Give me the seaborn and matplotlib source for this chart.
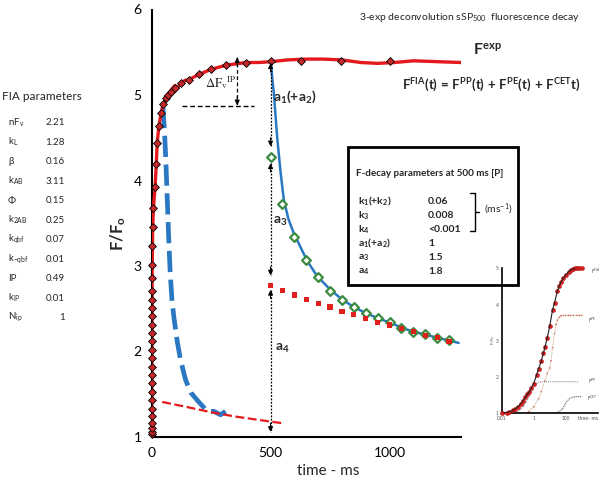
import matplotlib
matplotlib.use("Agg")
import matplotlib.pyplot as plt
import seaborn as sns
from matplotlib.patches import Rectangle
from matplotlib.lines import Line2D

# ---------------- data ----------------
# measured fluorescence induction (red diamonds)
exp_t = [0.01, 0.02, 0.05, 0.1, 0.2, 0.3, 0.4, 0.5, 0.6, 0.7, 0.8, 0.9, 1.0, 1.1, 1.2,
         1.4, 1.6, 1.8, 2.0, 2.3, 2.7, 3.2, 4, 5, 8, 15, 20, 24, 31, 41, 49, 62, 70, 80,
         98, 125, 157, 199, 250, 315, 398, 503, 630, 794, 1001]
exp_f = [1.04, 1.06, 1.10, 1.16, 1.24, 1.33, 1.43, 1.53, 1.63, 1.73, 1.82, 1.92, 2.02, 2.12,
         2.22, 2.31, 2.41, 2.51, 2.60, 2.71, 2.86, 3.01, 3.23, 3.46, 3.68, 3.92, 4.19, 4.44,
         4.64, 4.79, 4.89, 4.96, 5.00, 5.04, 5.08, 5.14, 5.18, 5.24, 5.30, 5.35, 5.38, 5.40,
         5.40, 5.40, 5.40]
# FIA fit (solid red)
fia_t = [0, 0.5, 1.0, 1.5, 2.0, 3.2, 4, 5, 8, 15, 20, 24, 31, 41, 49, 62, 70, 80, 98, 110,
         125, 140, 157, 199, 250, 315, 398, 450, 503, 570, 650, 720, 800, 880, 950, 1020,
         1100, 1200, 1300]
fia_f = [1.0, 1.53, 2.02, 2.31, 2.60, 3.01, 3.23, 3.46, 3.68, 3.92, 4.19, 4.44, 4.64, 4.79,
         4.89, 4.96, 5.00, 5.05, 5.11, 5.09, 5.13, 5.17, 5.18, 5.24, 5.30, 5.35, 5.38, 5.38,
         5.39, 5.41, 5.42, 5.42, 5.41, 5.38, 5.37, 5.38, 5.40, 5.39, 5.38]
# blue dashed component
pe_t = [48, 55, 60, 66, 72, 78, 86, 95, 108, 122, 143, 165, 192, 215, 234, 262, 290, 311]
pe_f = [4.86, 4.55, 4.25, 3.80, 3.35, 2.95, 2.60, 2.38, 2.12, 1.90, 1.67, 1.52, 1.43, 1.36,
        1.30, 1.30, 1.26, 1.30]
# red dashed component
cet_t = [45, 150, 250, 350, 450, 553]
cet_f = [1.41, 1.35, 1.29, 1.24, 1.20, 1.16]
# decay after the 500 ms pulse (blue solid)
decay_t = [500, 503, 507, 514, 528, 542, 556, 575, 598, 626, 654, 696, 752, 800, 850, 900,
           950, 1000, 1050, 1100, 1150, 1200, 1250, 1290]
decay_f = [5.40, 5.36, 5.20, 5.02, 4.50, 4.10, 3.77, 3.55, 3.38, 3.22, 3.06, 2.88, 2.72, 2.61,
           2.52, 2.45, 2.39, 2.34, 2.28, 2.23, 2.20, 2.16, 2.13, 2.10]
# decay data points (green open diamonds) and slow component (red squares)
pts_t = [500, 550, 600, 650, 700, 750, 800, 850, 900, 950, 1000, 1050, 1100, 1150, 1200, 1250]
pts_f = [4.27, 3.72, 3.34, 3.07, 2.87, 2.71, 2.60, 2.52, 2.45, 2.39, 2.34, 2.28, 2.23, 2.20,
         2.16, 2.13]
slow_f = [2.77, 2.71, 2.66, 2.61, 2.56, 2.52, 2.47, 2.43, 2.39, 2.34, 2.31, 2.27, 2.23, 2.19,
          2.16, 2.12]

x_ticks = [0, 500, 1000]
y_ticks = [1, 2, 3, 4, 5, 6]

# FIA parameter table
param_names = [r"nF$_\mathrm{v}$", r"k$_\mathrm{L}$", "β", r"k$_\mathrm{AB}$", "Φ",
               r"k$_\mathrm{2AB}$", r"k$_\mathrm{qbf}$", r"k$_\mathrm{-qbf}$", "IP",
               r"k$_\mathrm{IP}$", r"N$_\mathrm{ip}$"]
param_values = ["2.21", "1.28", "0.16", "3.11", "0.15", "0.25", "0.07", "0.01", "0.49",
                "0.01", "1"]
# F-decay parameter box
decay_names = [r"$\mathbf{k_1(+k_2)}$", r"$\mathbf{k_3}$", r"$\mathbf{k_4}$",
               r"$\mathbf{a_1(+a_2)}$", r"$\mathbf{a_3}$", r"$\mathbf{a_4}$"]
decay_values = ["0.06", "0.008", "<0.001", "1", "1.5", "1.8"]

# inset (log time)
in_t = [0.01, 0.02, 0.03, 0.05, 0.07, 0.1, 0.15, 0.2, 0.3, 0.4, 0.5, 0.7, 1, 1.5, 2, 3, 4,
        5, 7, 10, 15, 20, 30, 40, 50, 70, 100, 150, 200, 300, 400, 500, 700, 1000]
in_fia = [1.00, 1.02, 1.04, 1.08, 1.12, 1.18, 1.26, 1.33, 1.44, 1.52, 1.58, 1.70, 1.82,
          2.05, 2.22, 2.45, 2.65, 2.82, 3.08, 3.40, 3.85, 4.05, 4.37, 4.52, 4.62, 4.72,
          4.82, 4.90, 4.95, 4.99, 5.01, 5.02, 5.02, 5.02]
in_pe_t = [0.3, 0.5, 1, 2, 3, 5, 7, 10, 12, 15, 20, 25, 30, 40, 50, 70, 100, 150, 200, 300,
           500, 700, 1000]
in_pe = [1.00, 1.05, 1.18, 1.40, 1.60, 1.90, 2.10, 2.25, 2.45, 2.80, 3.20, 3.45, 3.57, 3.65,
         3.69, 3.70, 3.70, 3.70, 3.70, 3.70, 3.70, 3.70, 3.70]
in_pp_t = [0.01, 0.05, 0.1, 0.2, 0.3, 0.5, 0.7, 1, 1.5, 2, 3, 5, 10, 30, 100, 300, 600]
in_pp = [1.00, 1.02, 1.05, 1.15, 1.28, 1.45, 1.58, 1.72, 1.82, 1.86, 1.87, 1.87, 1.87, 1.87,
         1.87, 1.87, 1.87]
in_cet_t = [0.01, 1, 10, 30, 50, 70, 100, 150, 200, 300, 500, 1000]
in_cet = [1.00, 1.00, 1.00, 1.02, 1.08, 1.15, 1.28, 1.38, 1.42, 1.45, 1.46, 1.46]
in_xticks = [0.01, 1, 100]
in_xlabels = ["0.01", "1", "100"]
in_yticks = [1, 2, 3, 4, 5]

# ---------------- style ----------------
sns.set_style("white")
plt.rcParams["font.family"] = ["Lato", "DejaVu Sans"]
plt.rcParams["mathtext.fontset"] = "custom"
plt.rcParams["mathtext.rm"] = "Lato"
plt.rcParams["mathtext.it"] = "Lato:italic"
plt.rcParams["mathtext.bf"] = "Lato:bold"
plt.rcParams["mathtext.sf"] = "Lato"

W, H = 602, 484
fig = plt.figure(figsize=(W / 100, H / 100), dpi=100)
fig.patch.set_facecolor("white")


def fx(px):
    return px / W


def fy(py):
    return 1 - py / H


RED = "#e3191c"
BLUE = "#2a78c2"
GREEN = "#3b8a3e"

ax = fig.add_axes([fx(151.5), fy(437), 309.5 / W, 427.5 / H])
ax.set_facecolor("none")

sns.lineplot(x=fia_t, y=fia_f, ax=ax, color=RED, lw=2.4, sort=False, estimator=None,
             zorder=3)
sns.scatterplot(x=exp_t, y=exp_f, ax=ax, marker="D", s=16, color="#c8282a",
                edgecolor="black", linewidth=0.6, zorder=4, clip_on=False)
sns.lineplot(x=pe_t, y=pe_f, ax=ax, color=BLUE, lw=3.4, sort=False, estimator=None,
             zorder=2).lines[-1].set_dashes((4.5, 1.6))
sns.lineplot(x=cet_t, y=cet_f, ax=ax, color=RED, lw=1.6, sort=False, estimator=None,
             zorder=2).lines[-1].set_dashes((4, 1.6))
sns.lineplot(x=decay_t, y=decay_f, ax=ax, color=BLUE, lw=1.8, sort=False, estimator=None,
             zorder=3)
sns.scatterplot(x=pts_t, y=pts_f, ax=ax, marker="D", s=20, color="white",
                edgecolor=GREEN, linewidth=1.6, zorder=5)
sns.scatterplot(x=pts_t, y=slow_f, ax=ax, marker="s", s=14, color="#e0201c",
                edgecolor="none", zorder=6)

ax.set_xlim(0, 1300)
ax.set_ylim(1, 6)
ax.set_xticks(x_ticks)
ax.set_yticks(y_ticks)
for s in ["top", "right"]:
    ax.spines[s].set_visible(False)
for s in ["left", "bottom"]:
    ax.spines[s].set_linewidth(1.5)
    ax.spines[s].set_color("black")
ax.tick_params(direction="out", length=4, width=1.2, labelsize=10, colors="black", pad=3)
ax.set_xlabel("time - ms", fontsize=11)
ax.xaxis.set_label_coords((328 - 151.5) / 309.5, -0.064)
ax.set_ylabel(r"$\mathbf{F/F_o}$", fontsize=12)
ax.yaxis.set_label_coords(-0.075, 0.475)


# dotted double arrows
def arrow_head(x, y, up):
    d = 0.1 if up else -0.1
    ax.annotate("", xy=(x, y), xytext=(x, y - d),
                arrowprops=dict(arrowstyle="-|>", color="black", lw=0.8,
                                mutation_scale=7, shrinkA=0, shrinkB=0), zorder=7)


def dbl_arrow(x, ytop, ybot, ls=(0, (1.5, 1.2))):
    ax.plot([x, x], [ytop, ybot], color="black", lw=0.9, ls=ls, zorder=7)
    arrow_head(x, ytop, True)
    arrow_head(x, ybot, False)


dbl_arrow(500, 5.37, 4.40)
dbl_arrow(500, 4.20, 2.89)
dbl_arrow(500, 2.72, 1.06)
dbl_arrow(360, 5.44, 4.88, ls=(0, (3, 2)))
ax.plot([129, 430], [4.87, 4.87], color="black", lw=1.0, ls=(0, (3.5, 2)), zorder=7)

ax.text(512, 4.98, r"$\mathbf{a_1(+a_2)}$", fontsize=10, ha="left", va="center")
ax.text(510, 3.52, r"$\mathbf{a_3}$", fontsize=10, ha="left", va="center")
ax.text(518, 2.04, r"$\mathbf{a_4}$", fontsize=10, ha="left", va="center")
ax.text(224, 5.15, r"$\Delta\mathrm{F_v}^{\mathrm{IP}}$", fontsize=9.3, ha="left",
        va="center", math_fontfamily="stix")

# texts around the plot
fig.text(fx(359), fy(17), r"3-exp deconvolution sSP$_{500}$  fluorescence decay",
         fontsize=7.5, ha="left", va="center")
fig.text(fx(473), fy(50), r"$\mathbf{F^{exp}}$", fontsize=11.5, ha="left", va="center")
fig.text(fx(402), fy(85),
         r"$\mathbf{F^{FIA}(t)\,=\,F^{PP}(t)\,+\,F^{PE}(t)\,+\,F^{CET}t)}$",
         fontsize=9.5, ha="left", va="center")

fig.text(fx(2), fy(96), "FIA parameters", fontsize=8.5, ha="left", va="center")
for i, (n, v) in enumerate(zip(param_names, param_values)):
    yy = 122.7 + i * 19.5
    fig.text(fx(8), fy(yy), n, fontsize=7, ha="left", va="center")
    fig.text(fx(65), fy(yy), v, fontsize=7, ha="right", va="center")

# F-decay box
fig.add_artist(Rectangle((fx(348), fy(285)), 170 / W, 138 / H, transform=fig.transFigure,
                         fill=False, lw=2, ec="black", zorder=8))
fig.text(fx(356), fy(173), "F-decay parameters at 500 ms [P]", fontsize=7.1,
         fontweight="bold", ha="left", va="center")
for i, (n, v) in enumerate(zip(decay_names, decay_values)):
    yy = 201.7 + i * 14
    fig.text(fx(358), fy(yy), n, fontsize=7.5, ha="left", va="center")
    fig.text(fx(428), fy(yy), v, fontsize=7.5, fontweight="bold", ha="left", va="center")
for (xa, ya), (xb, yb) in [((470, 193), (474.5, 193)), ((474.5, 193), (474.5, 230.5)),
                           ((470, 230.5), (474.5, 230.5)), ((474.5, 211.7), (479, 211.7))]:
    fig.add_artist(Line2D([fx(xa), fx(xb)], [fy(ya), fy(yb)], transform=fig.transFigure,
                          color="black", lw=1.0))
fig.text(fx(484), fy(209), r"(ms$^{-1}$)", fontsize=7.5, ha="left", va="center")

# inset
axi = fig.add_axes([fx(501.7), fy(413.3), 96 / W, 145 / H])
axi.patch.set_alpha(0)
axi.set_xscale("log")
sns.lineplot(x=in_pp_t, y=in_pp, ax=axi, color="#8a8078", lw=0.7, estimator=None,
             sort=False).lines[-1].set_dashes((1, 1))
sns.lineplot(x=in_pe_t, y=in_pe, ax=axi, color="#c8a080", lw=0.7, estimator=None,
             sort=False).lines[-1].set_dashes((1, 1))
sns.scatterplot(x=in_pe_t, y=in_pe, ax=axi, s=1.5, color="#d06a50", edgecolor="none")
sns.lineplot(x=in_cet_t, y=in_cet, ax=axi, color="#303030", lw=0.7, estimator=None,
             sort=False).lines[-1].set_dashes((1, 1))
sns.scatterplot(x=in_t, y=in_fia, ax=axi, s=9, color="#e02020", edgecolor="#a01010",
                linewidth=0.3, zorder=3, clip_on=False)
sns.lineplot(x=in_t, y=in_fia, ax=axi, color="#202020", lw=0.8, estimator=None, sort=False,
             zorder=4)
axi.set_xlim(0.01, 1e4)
axi.set_ylim(1, 5)
axi.set_xticks(in_xticks)
axi.set_xticklabels(in_xlabels)
axi.set_yticks(in_yticks)
axi.minorticks_off()
for s in ["top", "right"]:
    axi.spines[s].set_visible(False)
for s in ["left", "bottom"]:
    axi.spines[s].set_linewidth(1.2)
    axi.spines[s].set_color("black")
axi.tick_params(length=0, labelsize=3.5, colors="#555555", pad=2)
axi.set_xlabel("")
axi.set_ylabel("")
fig.text(fx(493), fy(340), r"F/F$_\mathrm{o}$", fontsize=3, rotation=90, color="#555555",
         ha="center", va="center")
fig.text(fx(578), fy(419), "time- ms", fontsize=3.8, color="#555555", ha="left",
         va="center")
for lab, (px, py) in [(r"F$^{FIA}$", (591, 271.7)), (r"F$^{PE}$", (588, 320)),
                      (r"F$^{PP}$", (588, 381.7)), (r"F$^{CET}$", (586.7, 398))]:
    fig.text(fx(px), fy(py), lab, fontsize=3.5, color="#444444", ha="left", va="center")

fig.savefig("out.png", dpi=100)
